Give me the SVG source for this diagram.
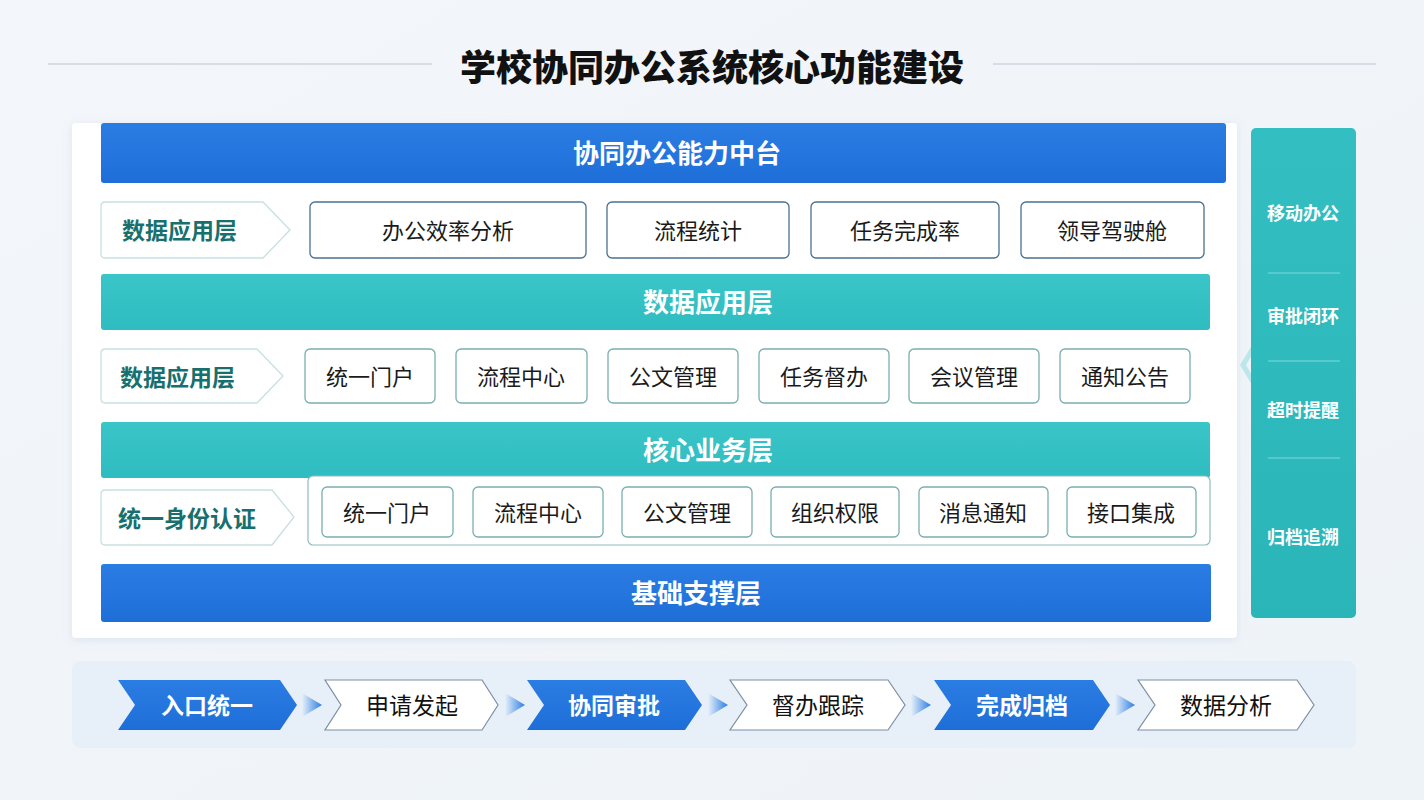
<svg xmlns="http://www.w3.org/2000/svg" width="1424" height="800" viewBox="0 0 1424 800">
<defs>
<linearGradient id="bg" x1="0" y1="0" x2="1" y2="1"><stop offset="0" stop-color="#f3f6fa"/><stop offset="1" stop-color="#eef3f8"/></linearGradient>
<linearGradient id="blue" x1="0" y1="0" x2="0" y2="1"><stop offset="0" stop-color="#2a7de3"/><stop offset="1" stop-color="#1f6ed8"/></linearGradient>
<linearGradient id="teal" x1="0" y1="0" x2="0" y2="1"><stop offset="0" stop-color="#3ac6c8"/><stop offset="1" stop-color="#2fbcc0"/></linearGradient>
<linearGradient id="side" x1="0" y1="0" x2="0" y2="1"><stop offset="0" stop-color="#33bfc2"/><stop offset="1" stop-color="#2ab5b9"/></linearGradient>
<linearGradient id="tri" x1="0" y1="0" x2="1" y2="0"><stop offset="0" stop-color="#2a7de3" stop-opacity="0"/><stop offset="1" stop-color="#2a7de3"/></linearGradient>
<filter id="sh" x="-5%" y="-5%" width="110%" height="110%"><feDropShadow dx="0" dy="2" stdDeviation="4" flood-color="#9fb4cc" flood-opacity="0.25"/></filter>
</defs>
<style>
text{font-family:"Noto Sans CJK SC","Noto Sans",sans-serif;text-anchor:middle;dominant-baseline:central;transform:translateY(-1.5px)}
.title{font-size:36px;font-weight:900;fill:#111}
.bar{font-size:26px;font-weight:700;fill:#fff}
.lab{font-size:23px;font-weight:700;fill:#17706e;text-anchor:start}
.box{font-size:22px;fill:#1a1a1a}
.side{font-size:18px;font-weight:700;fill:#fff}
.stepB{font-size:23px;font-weight:700;fill:#fff}
.stepW{font-size:23px;fill:#111}
.chev{fill:#fff;stroke:#c8dfe0;stroke-width:1.3}
.b1{fill:#fff;stroke:#4a7191;stroke-width:1.3}
.b2{fill:#fff;stroke:#7aaeb0;stroke-width:1.3}
.blue{fill:url(#blue)}
.teal{fill:url(#teal)}
.wst{fill:#fff;stroke:#7d8fa3;stroke-width:1.2}
.dv{stroke:#7fd9db;stroke-width:1}
.tl{stroke:#cdd5de;stroke-width:1.5}
</style>
<rect width="1424" height="800" fill="url(#bg)"/>
<g id="title">
<line class="tl" x1="48" y1="64" x2="432" y2="64"/>
<line class="tl" x1="993" y1="64" x2="1376" y2="64"/>
<text class="title" x="712" y="66">学校协同办公系统核心功能建设</text>
</g>
<g id="panel">
<rect x="72" y="123" width="1165" height="515" rx="4" fill="#fff" filter="url(#sh)"/>
</g>
<g id="top-bar">
<rect x="101" y="123" width="1125" height="60" rx="3" class="blue"/>
<text class="bar" x="677" y="153">协同办公能力中台</text>
</g>
<g id="row1">
<path class="chev" d="M105,202 H263 L290,230 L263,258 H105 Q101,258 101,254 V206 Q101,202 105,202 Z"/>
<text class="lab" x="122" y="230">数据应用层</text>
<rect class="b1" x="310" y="202" width="276" height="56" rx="5"/><text class="box" x="448" y="230">办公效率分析</text>
<rect class="b1" x="607" y="202" width="182" height="56" rx="5"/><text class="box" x="698" y="230">流程统计</text>
<rect class="b1" x="811" y="202" width="188" height="56" rx="5"/><text class="box" x="905" y="230">任务完成率</text>
<rect class="b1" x="1021" y="202" width="183" height="56" rx="5"/><text class="box" x="1112" y="230">领导驾驶舱</text>
</g>
<g id="bar-data">
<rect x="101" y="274" width="1109" height="56" rx="3" class="teal"/>
<text class="bar" x="708" y="302">数据应用层</text>
</g>
<g id="row2">
<path class="chev" d="M105,349 H257 L283,376 L257,403 H105 Q101,403 101,399 V353 Q101,349 105,349 Z"/>
<text class="lab" x="120" y="377">数据应用层</text>
<rect class="b2" x="305" y="349" width="130" height="54" rx="5"/><text class="box" x="370" y="376">统一门户</text>
<rect class="b2" x="456" y="349" width="131" height="54" rx="5"/><text class="box" x="521" y="376">流程中心</text>
<rect class="b2" x="608" y="349" width="130" height="54" rx="5"/><text class="box" x="673" y="376">公文管理</text>
<rect class="b2" x="759" y="349" width="130" height="54" rx="5"/><text class="box" x="824" y="376">任务督办</text>
<rect class="b2" x="909" y="349" width="130" height="54" rx="5"/><text class="box" x="974" y="376">会议管理</text>
<rect class="b2" x="1060" y="349" width="130" height="54" rx="5"/><text class="box" x="1125" y="376">通知公告</text>
</g>
<g id="bar-core">
<rect x="101" y="422" width="1109" height="56" rx="3" class="teal"/>
<text class="bar" x="708" y="450">核心业务层</text>
</g>
<g id="row3">
<rect x="308" y="476" width="902" height="69" rx="5" fill="#fff" stroke="#8fbcbd" stroke-width="1.2"/>
<path class="chev" d="M105,490 H272 L294,517 L272,545 H105 Q101,545 101,541 V494 Q101,490 105,490 Z"/>
<text class="lab" x="118" y="518">统一身份认证</text>
<rect class="b2" x="322" y="487" width="131" height="50" rx="5"/><text class="box" x="387" y="512">统一门户</text>
<rect class="b2" x="473" y="487" width="130" height="50" rx="5"/><text class="box" x="538" y="512">流程中心</text>
<rect class="b2" x="622" y="487" width="130" height="50" rx="5"/><text class="box" x="687" y="512">公文管理</text>
<rect class="b2" x="771" y="487" width="128" height="50" rx="5"/><text class="box" x="835" y="512">组织权限</text>
<rect class="b2" x="919" y="487" width="129" height="50" rx="5"/><text class="box" x="983" y="512">消息通知</text>
<rect class="b2" x="1067" y="487" width="129" height="50" rx="5"/><text class="box" x="1131" y="512">接口集成</text>
</g>
<g id="bar-base">
<rect x="101" y="564" width="1110" height="58" rx="3" class="blue"/>
<text class="bar" x="696" y="593">基础支撑层</text>
</g>
<g id="sidebar">
<path d="M1252,345 L1240,365 L1252,385 L1258,385 L1246,365 L1258,345 Z" fill="#5fd0d2" opacity="0.35"/>
<rect x="1251" y="128" width="105" height="490" rx="5" fill="url(#side)"/>
<text class="side" x="1303" y="213">移动办公</text>
<line class="dv" x1="1268" y1="273" x2="1340" y2="273"/>
<text class="side" x="1303" y="316">审批闭环</text>
<line class="dv" x1="1268" y1="361" x2="1340" y2="361"/>
<text class="side" x="1303" y="410">超时提醒</text>
<line class="dv" x1="1268" y1="458" x2="1340" y2="458"/>
<text class="side" x="1303" y="537">归档追溯</text>
</g>
<g id="flow-panel">
<rect x="72" y="661" width="1284" height="87" rx="8" fill="#e7f0f9"/>
</g>
<g id="connectors">
<path d="M302,693 L322,705 L302,717 Z" fill="url(#tri)"/>
<path d="M505,693 L525,705 L505,717 Z" fill="url(#tri)"/>
<path d="M708,693 L728,705 L708,717 Z" fill="url(#tri)"/>
<path d="M911,693 L931,705 L911,717 Z" fill="url(#tri)"/>
<path d="M1115,693 L1135,705 L1115,717 Z" fill="url(#tri)"/>
</g>
<g id="step1"><path class="blue" d="M118,680 H280 L297,705 L280,730 H118 L135,705 Z"/><text class="stepB" x="207" y="705">入口统一</text></g>
<g id="step2"><path class="wst" d="M325,680 H482 L498,705 L482,730 H325 L341,705 Z"/><text class="stepW" x="412" y="705">申请发起</text></g>
<g id="step3"><path class="blue" d="M527,680 H685 L702,705 L685,730 H527 L544,705 Z"/><text class="stepB" x="614" y="705">协同审批</text></g>
<g id="step4"><path class="wst" d="M730,680 H888 L905,705 L888,730 H730 L747,705 Z"/><text class="stepW" x="818" y="705">督办跟踪</text></g>
<g id="step5"><path class="blue" d="M934,680 H1093 L1110,705 L1093,730 H934 L951,705 Z"/><text class="stepB" x="1022" y="705">完成归档</text></g>
<g id="step6"><path class="wst" d="M1138,680 H1297 L1314,705 L1297,730 H1138 L1155,705 Z"/><text class="stepW" x="1226" y="705">数据分析</text></g>
</svg>
